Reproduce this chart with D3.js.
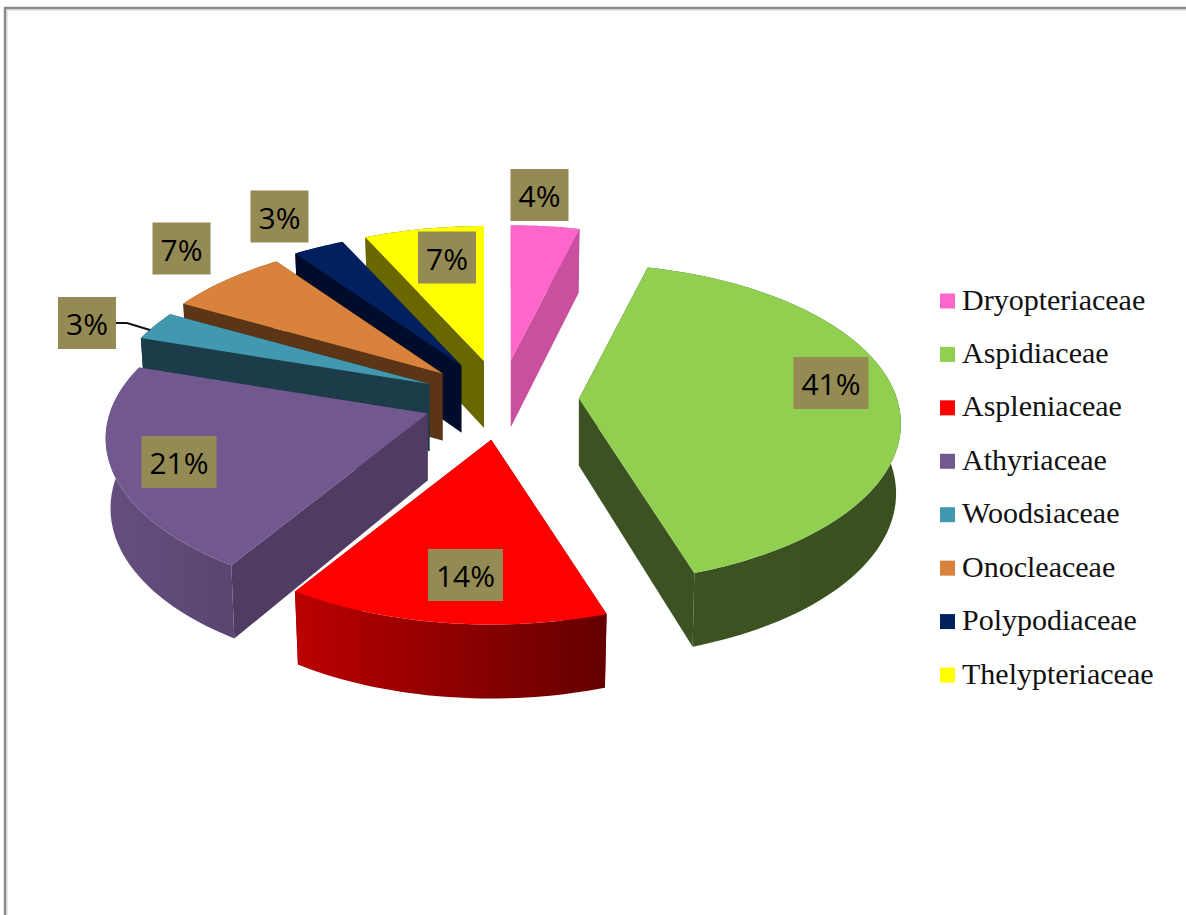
<!DOCTYPE html>
<html>
<head>
<meta charset="utf-8">
<script src="https://cdn.jsdelivr.net/npm/d3@7/dist/d3.min.js"></script>
<style>
  html, body { margin: 0; padding: 0; background: #fff; }
  svg { display: block; }
</style>
</head>
<body>
<svg id="chart" width="1186" height="915"></svg>
<script>
// Fern families and their share of the species count, in percent.
const families = ["Dryopteriaceae", "Aspidiaceae", "Aspleniaceae", "Athyriaceae",
                  "Woodsiaceae", "Onocleaceae", "Polypodiaceae", "Thelypteriaceae"];
const shares = [4, 41, 14, 21, 3, 7, 3, 7];

// Face colours per family.
const topColors = ["#ff66cc", "#90cf50", "#ff0000", "#71588f", "#4198af", "#d9823b", "#002060", "#ffff00"];
const cutColors = ["#c8509e", "#3c5222", "#a00000", "#503c62", "#1b3c48", "#5c3516", "#000c2a", "#6a6600"];
const wallLeft  = ["#c8509e", "#3d5422", "#bb0000", "#664f80", "#1b3c48", "#5c3516", "#000c2a", "#6a6600"];
const wallRight = ["#c8509e", "#3a5020", "#640000", "#5a4570", "#1b3c48", "#5c3516", "#000c2a", "#6a6600"];

// Where each percentage box sits (centre); its width follows the text.
const labelCentres = [[539.5, 195], [831, 383], [465.5, 575], [179, 462],
                      [87, 323], [181.5, 248.5], [279.5, 216.5], [447, 257.5]];

const pieCentre = { x: 501, y: 400 };
const explode = { x: 78, y: 40 };

// Perspective view of the tilted disc.
const discRadius = 318, discTilt = 156, perspective = 0.156;
const projectRim = t => {
  const u = Math.sin(t), v = Math.cos(t), w = 1 + perspective * v;
  return [discRadius * u / w, -discTilt * v / w];
};
const wallDepth = d3.scaleLinear().domain([-1, 0, 1]).range([74, 69, 64]);
const apexDepth = 67;
const bottomShrink = 0.985;

const svg = d3.select("#chart");
const defs = svg.append("defs");

const arcs = d3.pie().sort(null).value(d => d)(shares);

const slices = arcs.map((a, i) => {
  const mid = (a.startAngle + a.endAngle) / 2;
  const apex = [pieCentre.x + explode.x * Math.sin(mid),
                pieCentre.y - explode.y * Math.cos(mid)];
  const rimTop = t => {
    const p = projectRim(t);
    return [apex[0] + p[0], apex[1] + p[1]];
  };
  const rimBottom = t => {
    const p = projectRim(t);
    return [apex[0] + p[0] * bottomShrink, apex[1] + p[1] + wallDepth(Math.cos(t))];
  };
  const steps = d3.range(0, 1.0001, 1 / Math.max(6, Math.ceil((a.endAngle - a.startAngle) * 40)))
    .map(f => a.startAngle + f * (a.endAngle - a.startAngle));
  return { i, apex, apexLow: [apex[0], apex[1] + apexDepth],
           a0: a.startAngle, a1: a.endAngle, steps, rimTop, rimBottom };
});

const line = d3.line();
const closed = pts => line(pts) + "Z";

// Far slices first, so nearer ones paint over them.
const paintOrder = [1, 0, 7, 6, 5, 4, 3, 2];
const pie3d = svg.append("g");

paintOrder.forEach(k => {
  const s = slices[k];
  const g = pie3d.append("g").attr("class", "slice");

  const tops = s.steps.map(s.rimTop);
  const lows = s.steps.map(s.rimBottom);

  // The two radial cut faces.
  [s.a0, s.a1].forEach(t => {
    g.append("path")
      .attr("d", closed([s.apex, s.rimTop(t), s.rimBottom(t), s.apexLow]))
      .attr("fill", cutColors[k]);
  });

  const gradId = "wall" + k;
  const grad = defs.append("linearGradient").attr("id", gradId)
    .attr("gradientUnits", "userSpaceOnUse")
    .attr("x1", d3.min(tops, p => p[0])).attr("x2", d3.max(tops, p => p[0]))
    .attr("y1", 0).attr("y2", 0);
  grad.append("stop").attr("offset", 0).attr("stop-color", wallLeft[k]);
  grad.append("stop").attr("offset", 1).attr("stop-color", wallRight[k]);

  // Outer wall of the slice.
  g.append("path")
    .attr("d", closed(tops.concat(lows.slice().reverse())))
    .attr("fill", `url(#${gradId})`);

  // Top surface.
  g.append("path")
    .attr("d", closed([s.apex].concat(tops)))
    .attr("fill", topColors[k]);
});

// Leader line for the Woodsiaceae label.
svg.append("path")
  .attr("d", "M116,323 L127,323 L150,330")
  .attr("fill", "none").attr("stroke", "#111").attr("stroke-width", 2);

// Percentage boxes.
const boxH = 52;
const labels = svg.append("g").attr("class", "labels");
shares.forEach((v, i) => {
  const [cx, cy] = labelCentres[i];
  const boxW = v >= 10 ? 75 : 58;
  const g = labels.append("g");
  g.append("rect")
    .attr("x", cx - boxW / 2).attr("y", cy - boxH / 2)
    .attr("width", boxW).attr("height", boxH)
    .attr("fill", "#948a54");
  g.append("text")
    .attr("x", cx).attr("y", cy + 12)
    .attr("text-anchor", "middle")
    .attr("font-family", "'Open Sans', sans-serif")
    .attr("font-size", 30)
    .attr("fill", "#000")
    .text(v + "%");
});

// Legend.
const legendY = d3.scalePoint().domain(families).range([293.5, 667.5]);
const legend = svg.append("g").attr("class", "legend");
families.forEach((name, i) => {
  const y = legendY(name);
  legend.append("rect")
    .attr("x", 940).attr("y", y).attr("width", 15).attr("height", 15)
    .attr("fill", topColors[i]);
  legend.append("text")
    .attr("x", 962).attr("y", y + 16)
    .attr("font-family", "'Liberation Serif', serif")
    .attr("font-size", 30)
    .attr("fill", "#111")
    .text(name);
});

// Chart frame: only the top and left edges are in view.
svg.append("path")
  .attr("d", "M7,915 V10 H1186")
  .attr("fill", "none").attr("stroke", "#cfcfcf").attr("stroke-width", 1);
svg.append("path")
  .attr("d", "M5,915 V8 H1186")
  .attr("fill", "none").attr("stroke", "#8a8a8a").attr("stroke-width", 2.4);
</script>
</body>
</html>
